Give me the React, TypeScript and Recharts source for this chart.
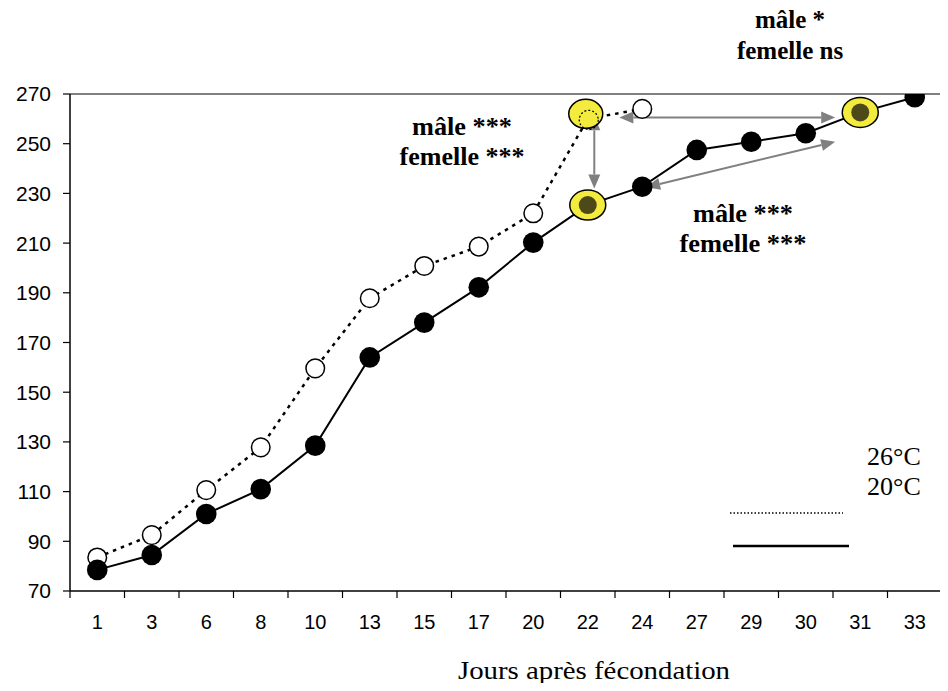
import { LineChart, Line, XAxis, YAxis, ReferenceLine } from 'recharts'

const days = ['1', '3', '6', '8', '10', '13', '15', '17', '20', '22', '24', '27', '29', '30', '31', '33']
const temp26 = [83.5, 92.5, 110.6, 127.8, 159.6, 187.8, 200.8, 208.6, 222, 260, 264, null, null, null, null, null]
const temp20 = [78.5, 84.5, 101, 111, 128.5, 164, 178, 192.2, 210.2, 225.3, 232.7, 247.5, 250.8, 254.2, 262.6, 268.7]
const yTicks = [70, 90, 110, 130, 150, 170, 190, 210, 230, 250, 270]
const highlight26 = [9]
const highlight20 = [9, 14]

// double-headed arrows, in (day index, value) units
const arrows = [
  { x1: 9.12, y1: 261, x2: 9.12, y2: 232 },
  { x1: 9.58, y1: 260.5, x2: 13.54, y2: 260.5 },
  { x1: 10.07, y1: 232.5, x2: 13.54, y2: 250.8 },
]

const data = days.map((day, i) => ({ i, day, t26: temp26[i], t20: temp20[i] }))
const labelTicks = days.map((_, i) => i)
const bandTicks = [...days.map((_, i) => i - 0.5), days.length - 0.5]

const sans = '"Liberation Sans", Arial, sans-serif'
const serif = '"Liberation Serif", "Times New Roman", serif'
const grey = '#808080'
const yellow = '#f3ec3f'

function DoubleArrow(props: any) {
  const { x1, y1, x2, y2 } = props
  const len = Math.hypot(x2 - x1, y2 - y1) || 1
  const ux = (x2 - x1) / len
  const uy = (y2 - y1) / len
  const head = 14
  const half = 6
  const tri = (tx: number, ty: number, dir: number) => {
    const bx = tx + dir * ux * head
    const by = ty + dir * uy * head
    return `${tx},${ty} ${bx - uy * half},${by + ux * half} ${bx + uy * half},${by - ux * half}`
  }
  return (
    <g>
      <line x1={x1 + ux * head} y1={y1 + uy * head} x2={x2 - ux * head} y2={y2 - uy * head} stroke={grey} strokeWidth={2} />
      <polygon points={tri(x1, y1, 1)} fill={grey} />
      <polygon points={tri(x2, y2, -1)} fill={grey} />
    </g>
  )
}

function Dot26(props: any) {
  const { cx, cy, index } = props
  if (cx == null || cy == null) return <g key={`o${index}`} />
  if (highlight26.includes(index)) {
    return (
      <g key={`o${index}`}>
        <ellipse cx={cx - 2} cy={cy - 5} rx={17} ry={14.5} fill={yellow} stroke="#000" strokeWidth={1.5} />
        <circle cx={cx + 1} cy={cy + 1} r={9.5} fill="none" stroke="#000" strokeWidth={1.2} strokeDasharray="2 2" />
      </g>
    )
  }
  return <circle key={`o${index}`} cx={cx} cy={cy} r={9.3} fill="#fff" stroke="#000" strokeWidth={1.5} />
}

function Dot20(props: any) {
  const { cx, cy, index } = props
  if (cx == null || cy == null) return <g key={`f${index}`} />
  if (highlight20.includes(index)) {
    return (
      <g key={`f${index}`}>
        <ellipse cx={cx} cy={cy} rx={18} ry={15} fill={yellow} stroke="#000" strokeWidth={1.5} />
        <circle cx={cx} cy={cy} r={9} fill="#2f2d12" fillOpacity={0.85} />
      </g>
    )
  }
  return <circle key={`f${index}`} cx={cx} cy={cy} r={10.3} fill="#000" />
}

export default function App() {
  const W = 940
  const H = 675
  return (
    <div style={{ position: 'relative', width: W, height: H }}>
      <LineChart width={W} height={H} data={data} margin={{ top: 86, right: 6, bottom: 0, left: 0 }}>
        <XAxis
          xAxisId="band"
          dataKey="i"
          type="number"
          domain={[-0.5, days.length - 0.5]}
          ticks={bandTicks}
          tickFormatter={() => ''}
          tickSize={7}
          height={8}
          stroke="#000"
          axisLine={{ stroke: '#000', strokeWidth: 1.5 }}
          tickLine={{ stroke: '#000', strokeWidth: 1.2 }}
          allowDataOverflow
        />
        <XAxis
          xAxisId="label"
          dataKey="i"
          type="number"
          domain={[-0.5, days.length - 0.5]}
          ticks={labelTicks}
          tickFormatter={(v: number) => days[v] ?? ''}
          tickSize={0}
          tickMargin={16}
          height={84}
          axisLine={false}
          tickLine={false}
          tick={{ fill: '#000', fontSize: 20, fontFamily: sans }}
          allowDataOverflow
        />
        <YAxis
          domain={[70, 270]}
          ticks={yTicks}
          width={62}
          tickSize={7}
          tickMargin={12}
          stroke="#000"
          axisLine={{ stroke: '#000', strokeWidth: 1.5 }}
          tickLine={{ stroke: '#000', strokeWidth: 1.2 }}
          tick={{ fill: '#000', fontSize: 21, fontFamily: sans }}
          allowDataOverflow
        />
        <ReferenceLine xAxisId="band" y={270} stroke={grey} strokeWidth={2} ifOverflow="visible" />
        <ReferenceLine xAxisId="band" x={days.length - 0.5} stroke={grey} strokeWidth={2} ifOverflow="visible" />
        <Line
          xAxisId="band"
          dataKey="t26"
          stroke="#000"
          strokeWidth={2.5}
          strokeDasharray="3.5 5"
          dot={Dot26}
          activeDot={false}
          connectNulls={false}
          isAnimationActive={false}
        />
        <Line
          xAxisId="band"
          dataKey="t20"
          stroke="#000"
          strokeWidth={2}
          dot={Dot20}
          activeDot={false}
          isAnimationActive={false}
        />
        {arrows.map((a, k) => (
          <ReferenceLine
            key={k}
            xAxisId="band"
            segment={[{ x: a.x1, y: a.y1 }, { x: a.x2, y: a.y2 }]}
            ifOverflow="visible"
            shape={DoubleArrow}
          />
        ))}
      </LineChart>
      <svg
        width={948}
        height={691}
        style={{ position: 'absolute', left: -8, top: -8, pointerEvents: 'none' }}
      >
        <g fontFamily={serif} fill="#000">
          <g fontWeight="bold" fontSize={25} textAnchor="middle">
            <text x={790} y={28}>mâle *</text>
            <text x={790} y={59}>femelle ns</text>
            <text x={462} y={135} textLength={100} lengthAdjust="spacingAndGlyphs">mâle ***</text>
            <text x={462} y={165} textLength={125} lengthAdjust="spacingAndGlyphs">femelle ***</text>
            <text x={743} y={222} textLength={100} lengthAdjust="spacingAndGlyphs">mâle ***</text>
            <text x={743} y={252} textLength={127} lengthAdjust="spacingAndGlyphs">femelle ***</text>
          </g>
          <text x={867} y={465} fontSize={26}>26°C</text>
          <text x={867} y={495} fontSize={26}>20°C</text>
          <line x1={730} y1={513} x2={843} y2={513} stroke="#000" strokeWidth={1.5} strokeDasharray="1.5 2" />
          <line x1={733} y1={546} x2={849} y2={546} stroke="#000" strokeWidth={2.5} />
          <text x={458} y={679} fontSize={26} textLength={272} lengthAdjust="spacingAndGlyphs">Jours après fécondation</text>
        </g>
      </svg>
    </div>
  )
}
